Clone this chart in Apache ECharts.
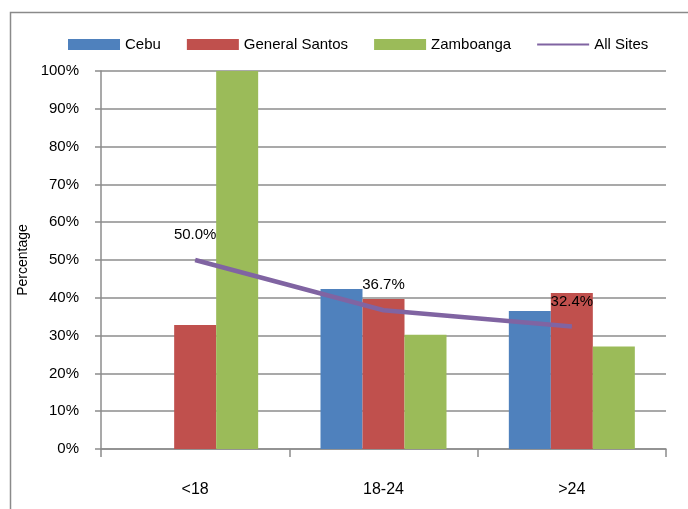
<!DOCTYPE html>
<html>
<head>
<meta charset="utf-8">
<script src="https://cdn.jsdelivr.net/npm/echarts@6/dist/echarts.min.js"></script>
<style>html,body{margin:0;padding:0;background:#fff;}#c{width:688px;height:509px;}</style>
</head>
<body>
<div id="c"></div>
<script>
const categories = ['<18', '18-24', '>24'];
const cebu = [0, 42.3, 36.5];
const generalSantos = [32.8, 39.7, 41.3];
const zamboanga = [100, 30.2, 27.1];
const allSites = [50.0, 36.7, 32.4];
const yTicks = [0, 10, 20, 30, 40, 50, 60, 70, 80, 90, 100];

const font = 'Liberation Sans, Arial, sans-serif';
const chart = echarts.init(document.getElementById('c'));
chart.setOption({
  animation: false,
  textStyle: { fontFamily: font },
  graphic: [{
    type: 'rect', left: 8, top: 10,
    shape: { width: 700, height: 520 },
    style: { fill: 'none', stroke: '#8a8a8a', lineWidth: 1.5 }
  }],
  legend: {
    left: 68, top: 37, padding: 0,
    itemWidth: 52, itemHeight: 11, itemGap: 26,
    textStyle: { fontFamily: font, fontSize: 15, color: '#000' },
    data: [
      { name: 'Cebu', icon: 'rect' },
      { name: 'General Santos', icon: 'rect' },
      { name: 'Zamboanga', icon: 'rect' },
      { name: 'All Sites', icon: 'path://M0,0L52,0L52,2L0,2Z', itemStyle: { color: '#8064A2' } }
    ]
  },
  grid: { left: 101, right: 22, top: 71, bottom: 60 },
  xAxis: {
    type: 'category',
    data: categories,
    axisLine: { lineStyle: { color: '#8c8c8c', width: 1.5 } },
    axisTick: { show: true, length: 8, lineStyle: { color: '#8c8c8c', width: 1.5 } },
    axisLabel: { fontFamily: font, fontSize: 16, color: '#000', margin: 33 }
  },
  yAxis: {
    type: 'value', min: 0, max: 100, interval: 10,
    name: 'Percentage', nameLocation: 'middle', nameGap: 71,
    nameTextStyle: { fontFamily: font, fontSize: 14, color: '#000' },
    axisLine: { show: true, lineStyle: { color: '#8c8c8c', width: 1.5 } },
    axisTick: { show: true, inside: false, length: 6, lineStyle: { color: '#8c8c8c', width: 1.5 } },
    axisLabel: { fontFamily: font, fontSize: 15, color: '#000', margin: 22,
      formatter: v => yTicks.includes(v) ? v + '%' : '' },
    splitLine: { lineStyle: { color: '#8c8c8c', width: 1.5 } }
  },
  series: [
    { name: 'Cebu', type: 'bar', data: cebu, barWidth: 42, barGap: '0%', itemStyle: { color: '#4F81BD' } },
    { name: 'General Santos', type: 'bar', data: generalSantos, barWidth: 42, barGap: '0%', itemStyle: { color: '#C0504D' } },
    { name: 'Zamboanga', type: 'bar', data: zamboanga, barWidth: 42, barGap: '0%', itemStyle: { color: '#9BBB59' } },
    { name: 'All Sites', type: 'line', data: allSites, symbol: 'circle', symbolSize: 1, showSymbol: true, z: 5,
      itemStyle: { color: '#8064A2' },
      lineStyle: { color: '#8064A2', width: 4.5 },
      label: { show: true, position: 'top', distance: 17, fontFamily: font, fontSize: 15, color: '#000',
        formatter: p => p.value.toFixed(1) + '%' } }
  ]
});
</script>
</body>
</html>
